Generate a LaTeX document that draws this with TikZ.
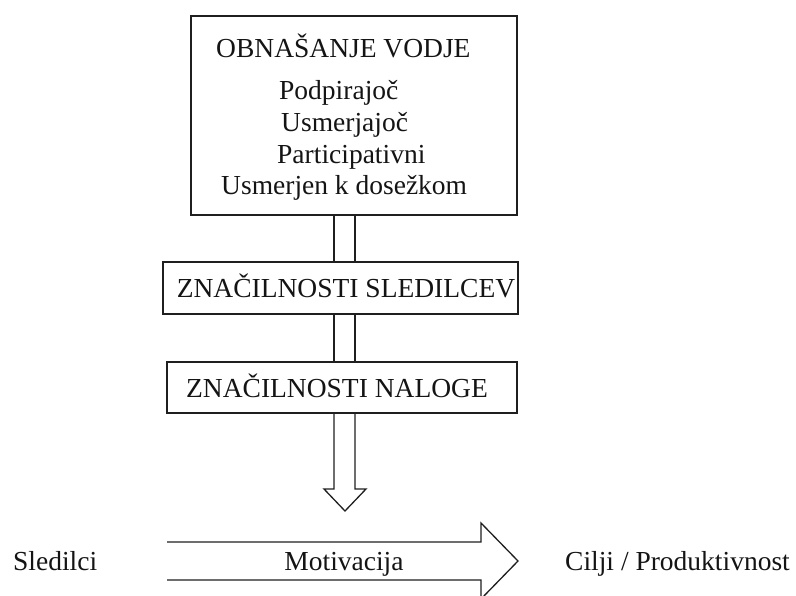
\documentclass[tikz,border=0pt]{standalone}
\usepackage{fontspec}
\setmainfont{Liberation Serif}
\begin{document}
\begin{tikzpicture}[x=1pt,y=-1pt,
  ln/.style={line width=1.3pt,draw=black!88},
  box/.style={ln,rectangle,inner sep=0pt},
  lbl/.style={font=\fontsize{27.5}{33}\selectfont,inner sep=0pt,text=black!92},
  lbw/.style={lbl,anchor=base west},
  lbc/.style={lbl,anchor=base}]
\useasboundingbox (0,0) rectangle (796,595);
\clip (0,0) rectangle (796,595);

% boxes
\node[box,minimum width=326pt,minimum height=199pt] (lead) at (354,115.5) {};
\node[box,minimum width=355pt,minimum height=52pt] (foll) at (340.5,288) {};
\node[box,minimum width=350pt,minimum height=51pt] (task) at (342,387.5) {};

% leader behaviour
\node[lbw] (t0) at (216,57) {OBNAŠANJE VODJE};
\node[lbw] (t1) at (279,99) {Podpirajoč};
\node[lbw] (t2) at (281,131) {Usmerjajoč};
\node[lbw] (t3) at (277,163) {Participativni};
\node[lbw] (t4) at (221,194) {Usmerjen k dosežkom};

\node[lbc] (fl) at (346,297) {ZNAČILNOSTI SLEDILCEV};
\node[lbc] (tl) at (337,397) {ZNAČILNOSTI NALOGE};

% double-line connectors between the boxes
\coordinate (axL) at (334,0);
\coordinate (axR) at (355,0);
\draw[ln] (lead.south -| axL) -- (foll.north -| axL);
\draw[ln] (lead.south -| axR) -- (foll.north -| axR);
\draw[ln] (foll.south -| axL) -- (task.north -| axL);
\draw[ln] (foll.south -| axR) -- (task.north -| axR);

% hollow arrow down to the motivation line
\coordinate (dtip) at (345,511);
\draw[ln,line join=miter] (task.south -| axL) -- (334,489) -- (324,489) -- (dtip)
  -- (366,489) -- (355,489) -- (task.south -| axR);

% bottom row
\node[lbw] (fol) at (13,570) {Sledilci};
\node[lbc] (mot) at (344,570) {Motivacija};
\node[lbw] (goal) at (565,570) {Cilji / Produktivnost};

\coordinate (htip) at (518,561);
\draw[ln,line join=miter] (167,542) -- (481,542) -- (481,523) -- (htip)
  -- (481,599) -- (481,580) -- (167,580);
\end{tikzpicture}
\end{document}
